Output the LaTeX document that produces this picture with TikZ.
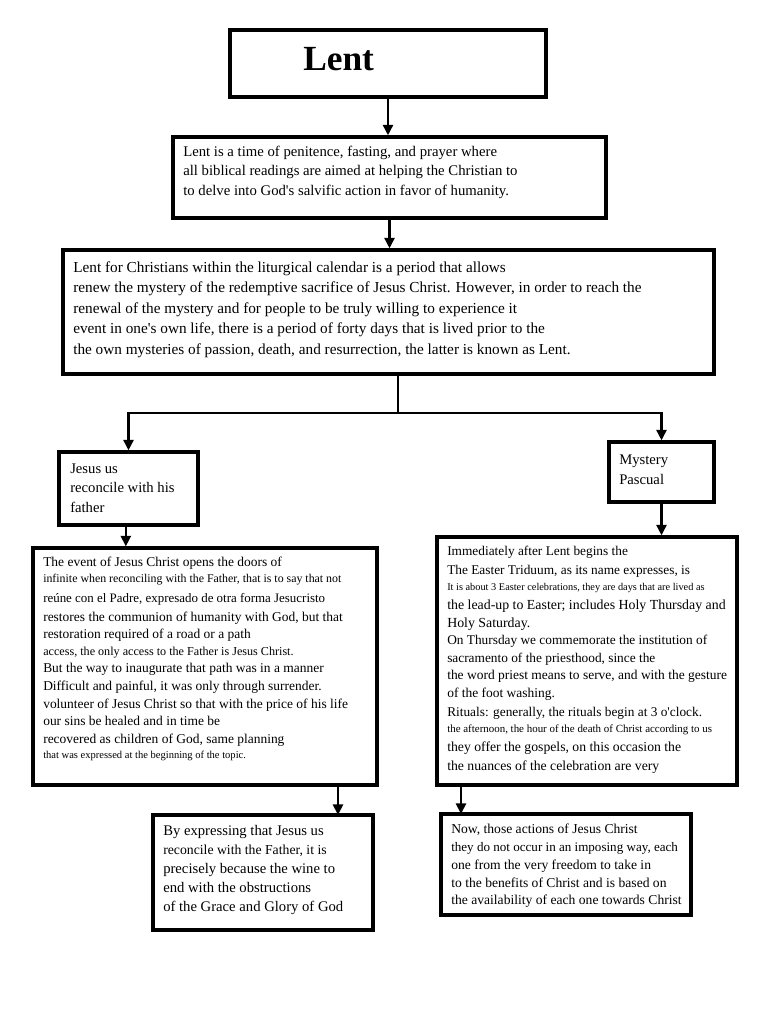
\documentclass[tikz,border=0pt]{standalone}
\usepackage{fontspec}
\setmainfont{Liberation Serif}
\usetikzlibrary{arrows.meta,fit}
\newcounter{tlc}
\newcommand\putline[4]{\stepcounter{tlc}\node[txt,font={\fontsize{#3}{#3}\selectfont}] (t\arabic{tlc}) at (#1,#2) {#4};}
\newcommand\aq{\textquotesingle}
\begin{document}
\begin{tikzpicture}[x=0.75pt,y=-0.75pt,
  box/.style={draw=black,line width=2.35pt,inner sep=0pt,rectangle},
  txt/.style={anchor=base west,inner sep=0pt,text=black},
  conn/.style={draw=black,line width=2pt},
  arr/.style={conn,-{Triangle[length=8pt,width=7.5pt]}}]
\fill[white] (0,0) rectangle (768,1024);
\useasboundingbox (0,0) rectangle (768,1024);
% boxes
\node[box,fit={(230,30) (546,97)}] (lent) {};
\node[box,fit={(173,137) (606,218)}] (def) {};
\node[box,fit={(63,250) (714,374)}] (cal) {};
\node[box,fit={(59,452) (198,525)}] (jes) {};
\node[box,fit={(609,442) (714,502)}] (mys) {};
\node[box,fit={(33,548) (377,785)}] (ev) {};
\node[box,fit={(437,537) (737,785)}] (tri) {};
\node[box,fit={(153,815) (373,930)}] (expr) {};
\node[box,fit={(441,814) (691,915)}] (act) {};
% connectors
\coordinate (split) at (398,413);
\coordinate (a8) at (338,815);
\coordinate (a9) at (461,814);
\draw[arr] (lent.south) -- (lent.south |- def.north);
\draw[arr] (def.south) -- (def.south |- cal.north);
\draw[conn] (split |- cal.south) -- (split);
\draw[arr] (split) -| (jes.north);
\draw[arr] (split) -| (mys.north);
\draw[arr] ([xshift=-2pt]jes.south) -- ([xshift=-2pt]jes.south |- ev.north);
\draw[arr] (mys.south) -- (mys.south |- tri.north);
\draw[arr] (a8 |- ev.south) -- (a8);
\draw[arr] (a9 |- tri.south) -- (a9);
% title
\node[txt,font={\fontsize{26.5}{26.5}\selectfont\bfseries}] (title) at (303,70) {Lent};
% def
\putline{183}{156}{11.05}{Lent is a time of penitence, fasting, and prayer where}
\putline{183}{175.5}{11.05}{all biblical readings are aimed at helping the Christian to}
\putline{183}{195}{11.05}{to delve into God\aq s salvific action in favor of humanity.}
% cal
\putline{73}{272}{11.45}{Lent for Christians within the liturgical calendar is a period that allows}
\putline{73}{292.5}{11.45}{renew the mystery of the redemptive sacrifice of Jesus Christ. However, in order to reach the}
\putline{73}{313}{11.45}{renewal of the mystery and for people to be truly willing to experience it}
\putline{73}{333.5}{11.45}{event in one\aq s own life, there is a period of forty days that is lived prior to the}
\putline{73}{354}{11.45}{the own mysteries of passion, death, and resurrection, the latter is known as Lent.}
% jes
\putline{70}{473}{11}{Jesus us}
\putline{70}{492}{11}{reconcile with his}
\putline{70}{512}{11}{father}
% mys
\putline{619}{464}{11}{Mystery}
\putline{619}{484}{11}{Pascual}
% ev
\putline{43}{566}{10.1}{The event of Jesus Christ opens the doors of}
\putline{43}{582}{8.9}{infinite when reconciling with the Father, that is to say that not}
\putline{43}{602}{9.7}{reúne con el Padre, expresado de otra forma Jesucristo}
\putline{43}{621}{10.1}{restores the communion of humanity with God, but that}
\putline{43}{638}{10.1}{restoration required of a road or a path}
\putline{43}{655}{9.1}{access, the only access to the Father is Jesus Christ.}
\putline{43}{672}{10.1}{But the way to inaugurate that path was in a manner}
\putline{43}{690}{10.1}{Difficult and painful, it was only through surrender.}
\putline{43}{708}{10.1}{volunteer of Jesus Christ so that with the price of his life}
\putline{43}{725}{10.1}{our sins be healed and in time be}
\putline{43}{743}{10.1}{recovered as children of God, same planning}
\putline{43}{758}{7.9}{that was expressed at the beginning of the topic.}
% tri
\putline{447}{555}{10}{Immediately after Lent begins the}
\putline{447}{574}{10}{The Easter Triduum, as its name expresses, is}
\putline{447}{590}{7.75}{It is about 3 Easter celebrations, they are days that are lived as}
\putline{447}{609}{10.4}{the lead-up to Easter; includes Holy Thursday and}
\putline{447}{627}{10.4}{Holy Saturday.}
\putline{447}{644}{10}{On Thursday we commemorate the institution of}
\putline{447}{662}{10}{sacramento of the priesthood, since the}
\putline{447}{679}{10.1}{the word priest means to serve, and with the gesture}
\putline{447}{697}{10.1}{of the foot washing.}
\putline{447}{716}{10}{Rituals: generally, the rituals begin at 3 o\aq clock.}
\putline{447}{732}{8.2}{the afternoon, the hour of the death of Christ according to us}
\putline{447}{751}{10.3}{they offer the gospels, on this occasion the}
\putline{447}{770}{10.3}{the nuances of the celebration are very}
% expr
\putline{163}{835}{11}{By expressing that Jesus us}
\putline{163}{854}{10.3}{reconcile with the Father, it is}
\putline{163}{873}{11}{precisely because the wine to}
\putline{163}{892}{11}{end with the obstructions}
\putline{163}{911}{11}{of the Grace and Glory of God}
% act
\putline{451}{833}{10.2}{Now, those actions of Jesus Christ}
\putline{451}{851}{9.8}{they do not occur in an imposing way, each}
\putline{451}{869}{10.2}{one from the very freedom to take in}
\putline{451}{887}{10.2}{to the benefits of Christ and is based on}
\putline{451}{904}{10.2}{the availability of each one towards Christ}
\end{tikzpicture}
\end{document}
